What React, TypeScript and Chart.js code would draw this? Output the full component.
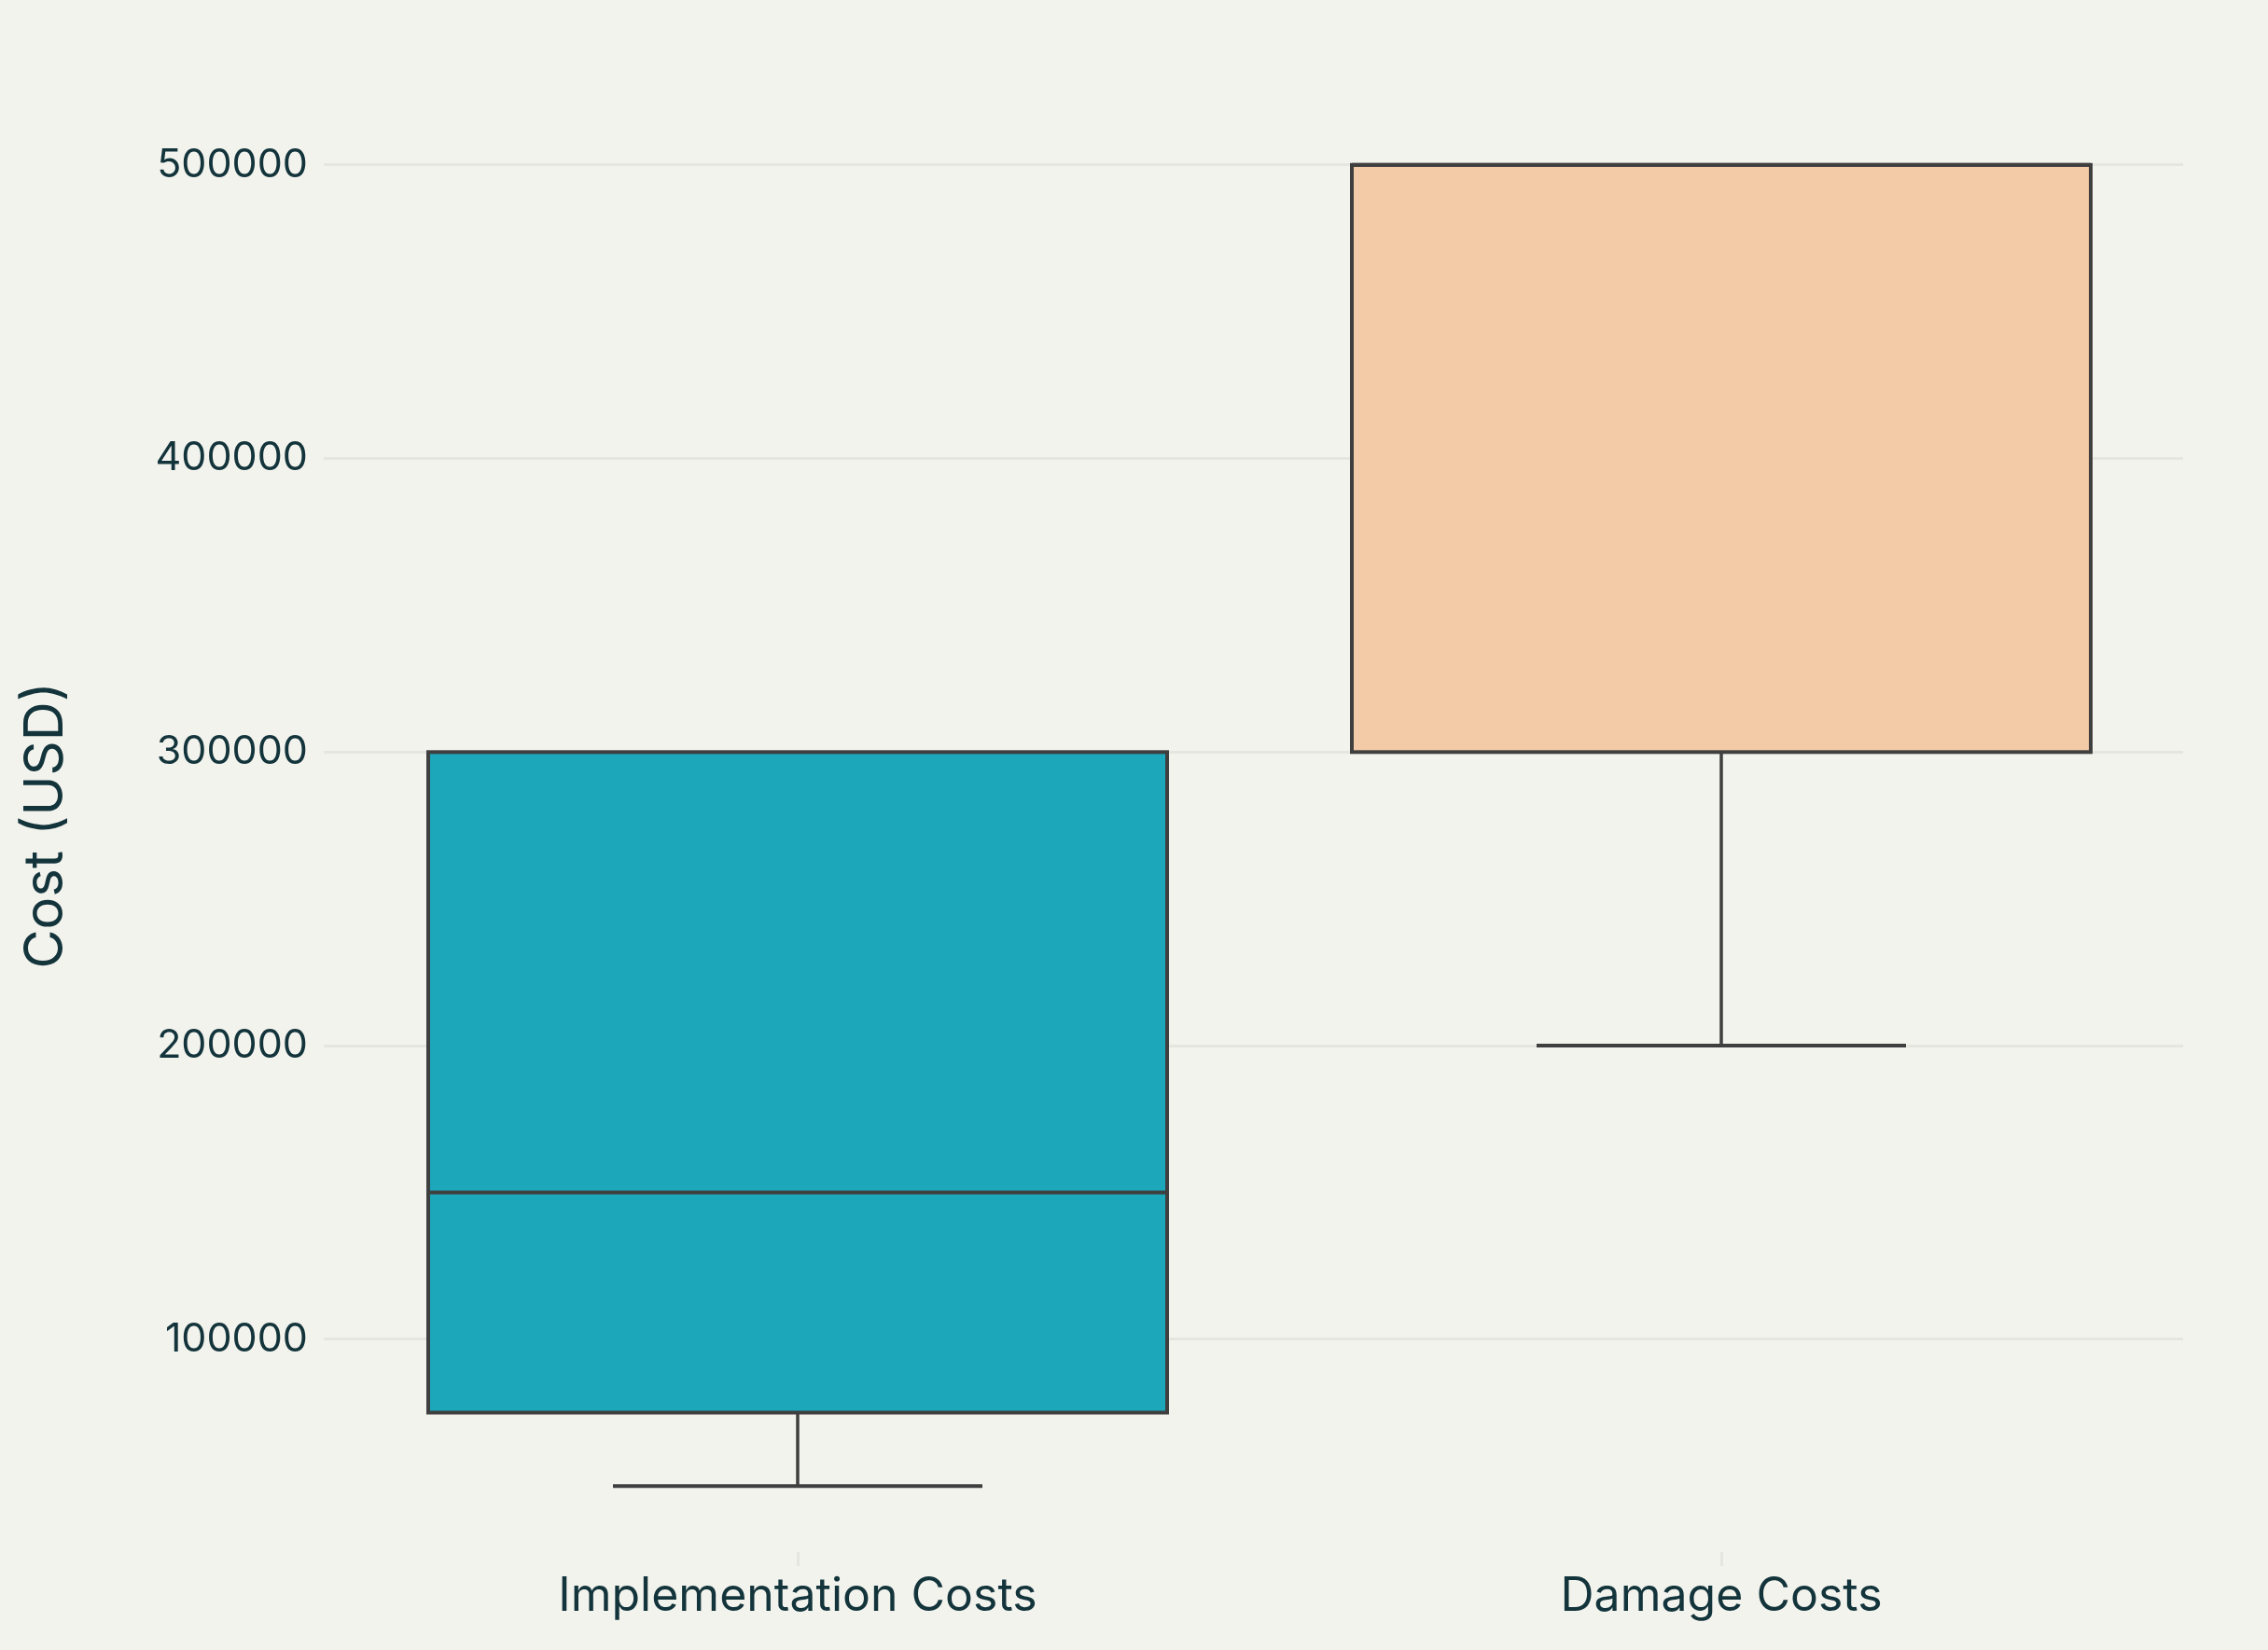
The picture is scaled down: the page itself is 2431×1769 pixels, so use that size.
import React, { useEffect, useRef } from "react";
import { Chart, registerables } from "chart.js";

Chart.register(...registerables);

// ---- Data ----
const categories = ["Implementation Costs", "Damage Costs"];
const minValues = [50000, 200000];
const q1Values = [75000, 300000];
const medianValues = [150000, 500000];
const q3Values = [300000, 500000];
const maxValues = [300000, 500000];
const boxColors = ["#1CA7BA", "#F3CBA6"];
const yTickValues = [100000, 200000, 300000, 400000, 500000];
const yTitle = "Cost (USD)";

const W = 2431;
const H = 1769;
const BG = "#F3F3EE";
const TEXT = "#13343B";
const GRID = "#E6E6E1";
const LINE = "#3F3F3F";
const FONT = "Inter, 'Liberation Sans', sans-serif";

const boxPlugin = {
  id: "boxDetails",
  beforeDraw(chart: any) {
    const { ctx } = chart;
    ctx.save();
    ctx.fillStyle = BG;
    ctx.fillRect(0, 0, chart.width, chart.height);
    ctx.restore();
  },
  afterDatasetsDraw(chart: any) {
    const { ctx } = chart;
    const y = chart.scales.y;
    const meta = chart.getDatasetMeta(0);
    ctx.save();
    ctx.strokeStyle = LINE;
    meta.data.forEach((bar: any, i: number) => {
      const props = bar.getProps(["x", "width"], true);
      const cx = props.x;
      const w = props.width;
      const left = cx - w / 2;
      const right = cx + w / 2;
      const yq1 = y.getPixelForValue(q1Values[i]);
      const yq3 = y.getPixelForValue(q3Values[i]);
      const ymed = y.getPixelForValue(medianValues[i]);
      const ymin = y.getPixelForValue(minValues[i]);
      const ymax = y.getPixelForValue(maxValues[i]);
      const capHalf = w / 4;

      // whiskers
      ctx.lineWidth = 3.5;
      if (minValues[i] < q1Values[i]) {
        ctx.beginPath();
        ctx.moveTo(cx, yq1);
        ctx.lineTo(cx, ymin);
        ctx.stroke();
        ctx.lineWidth = 4;
        ctx.beginPath();
        ctx.moveTo(cx - capHalf, ymin);
        ctx.lineTo(cx + capHalf, ymin);
        ctx.stroke();
      }
      ctx.lineWidth = 3.5;
      if (maxValues[i] > q3Values[i]) {
        ctx.beginPath();
        ctx.moveTo(cx, yq3);
        ctx.lineTo(cx, ymax);
        ctx.stroke();
        ctx.lineWidth = 4;
        ctx.beginPath();
        ctx.moveTo(cx - capHalf, ymax);
        ctx.lineTo(cx + capHalf, ymax);
        ctx.stroke();
      }

      // box outline
      ctx.lineWidth = 4;
      ctx.strokeRect(left, yq3, w, yq1 - yq3);

      // median
      ctx.beginPath();
      ctx.moveTo(left, ymed);
      ctx.lineTo(right, ymed);
      ctx.stroke();
    });
    ctx.restore();
  },
};

export default function App() {
  const canvasRef = useRef<HTMLCanvasElement | null>(null);

  useEffect(() => {
    document.body.style.margin = "0";
    document.body.style.background = BG;
    const canvas = canvasRef.current;
    if (!canvas) return;
    const chart = new Chart(canvas, {
      type: "bar",
      data: {
        labels: categories,
        datasets: [
          {
            data: q1Values.map((q1, i) => [q1, q3Values[i]]),
            backgroundColor: boxColors,
            borderWidth: 0,
            categoryPercentage: 0.8,
            barPercentage: 1.0,
          },
        ],
      },
      options: {
        responsive: false,
        animation: false,
        devicePixelRatio: 1,
        layout: { padding: { top: 106, right: 91, left: 0, bottom: 0 } },
        plugins: {
          legend: { display: false },
          tooltip: { enabled: false },
        },
        scales: {
          x: {
            type: "category",
            offset: true,
            grid: {
              display: true,
              offset: false,
              drawOnChartArea: false,
              drawTicks: true,
              tickLength: 15,
              tickColor: GRID,
              lineWidth: 3,
              color: GRID,
            },
            border: { display: false },
            ticks: {
              color: TEXT,
              padding: 3,
              font: { family: FONT, size: 50 },
              maxRotation: 0,
            },
            afterFit(scale: any) {
              scale.height = 105;
            },
          },
          y: {
            type: "linear",
            min: 27500,
            max: 522500,
            grid: {
              color: GRID,
              lineWidth: 3,
              drawTicks: true,
              tickLength: 13,
              tickColor: GRID,
            },
            border: { display: false },
            ticks: {
              color: TEXT,
              padding: 17,
              font: { family: FONT, size: 43 },
              callback: (v: any) => String(v),
            },
            afterBuildTicks(scale: any) {
              scale.ticks = yTickValues.map((v) => ({ value: v }));
            },
            afterFit(scale: any) {
              scale.width = 360;
            },
            title: {
              display: true,
              text: yTitle,
              color: TEXT,
              font: { family: FONT, size: 58 },
              padding: { top: 15, bottom: 0 },
            },
          },
        },
      },
      plugins: [boxPlugin],
    } as any);
    return () => chart.destroy();
  }, []);

  return (
    <div style={{ position: "fixed", left: 0, top: 0, width: W, height: H, background: BG }}>
      <canvas ref={canvasRef} width={W} height={H} style={{ display: "block", width: W, height: H }} />
    </div>
  );
}
